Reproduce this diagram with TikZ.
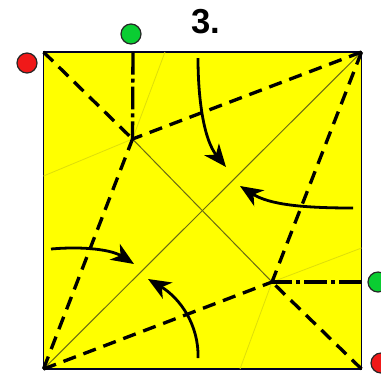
\documentclass[tikz,border=0pt]{standalone}
\usepackage{fontspec}
\setmainfont{Liberation Sans}
\usetikzlibrary{arrows.meta}
\definecolor{paper}{RGB}{255,255,0}
\definecolor{foldfaint}{RGB}{222,222,10}
\definecolor{folddark}{RGB}{105,105,20}
\definecolor{dotred}{RGB}{240,25,25}
\definecolor{dotgreen}{RGB}{10,205,50}
\tikzset{
  x=0.75pt,y=-0.75pt,
  sheet/.style={fill=paper,draw=black!85!blue,line width=1.3pt},
  faintfold/.style={draw=foldfaint,line width=0.6pt},
  thinfold/.style={draw=folddark,line width=0.75pt},
  valley/.style={draw=black,line width=2.5pt,dash pattern=on 10pt off 6pt},
  ridge/.style={draw=black,line width=2.5pt,dash pattern=on 17pt off 3pt on 3pt off 3pt},
  movearrow/.style={draw=black,line width=2.1pt,-{Stealth[length=17pt,width=14pt,inset=5pt]}},
  dotbase/.style={circle,draw=black!85,line width=0.9pt,minimum size=15pt,inner sep=0pt},
  reddot/.style={dotbase,fill=dotred},
  greendot/.style={dotbase,fill=dotgreen},
  stepnum/.style={font=\bfseries\fontsize{26}{26}\selectfont,inner sep=0pt}
}
\begin{document}
\begin{tikzpicture}
\useasboundingbox (0,0) rectangle (381,376);
\clip (0,0) rectangle (381,376);
\coordinate (TL) at (43.5,52);
\coordinate (TR) at (361.5,52);
\coordinate (BR) at (361.5,369);
\coordinate (BL) at (43.5,369);
\coordinate (P) at (132.5,139);
\coordinate (Q) at (272,282);
\coordinate (Tf) at (165,52);
\coordinate (Lf) at (43.5,176);
\coordinate (Rf) at (361.5,248);
\coordinate (Bf) at (240,369);
\coordinate (Tm) at (133,52);
\coordinate (Rm) at (361.5,282);
\draw[sheet] (TL) -- (TR) -- (BR) -- (BL) -- cycle;
\draw[faintfold] (P) -- (Tf);
\draw[faintfold] (P) -- (Lf);
\draw[faintfold] (Q) -- (Rf);
\draw[faintfold] (Q) -- (Bf);
\draw[thinfold] (BL) -- (TR);
\draw[thinfold] (P) -- (Q);
\draw[valley] (TL) -- (P);
\draw[valley] (TR) -- (P);
\draw[valley] (BL) -- (P);
\draw[valley] (TR) -- (Q);
\draw[valley] (BL) -- (Q);
\draw[valley] (BR) -- (Q);
\draw[ridge] (Tm) -- (P);
\draw[ridge] (Rm) -- (Q);
\coordinate (a1) at (198,58);
\coordinate (a2) at (226,167);
\coordinate (b1) at (353,208);
\coordinate (b2) at (240,186);
\coordinate (c1) at (198,358);
\coordinate (c2) at (148,279);
\coordinate (d1) at (51,249);
\coordinate (d2) at (134,264);
\draw[movearrow] (a1) .. controls (198,100) and (204,140) .. (a2);
\draw[movearrow] (b1) .. controls (305,208) and (270,205) .. (b2);
\draw[movearrow] (c1) .. controls (199,325) and (180,298) .. (c2);
\draw[movearrow] (d1) .. controls (85,246) and (112,250) .. (d2);
\node[reddot] (r1) at (27,63) {};
\node[greendot] (g1) at (131,34) {};
\node[greendot] (g2) at (378,282) {};
\node[reddot] (r2) at (381,363) {};
\node[stepnum] (title) at (206,22) {3.};
\end{tikzpicture}
\end{document}
